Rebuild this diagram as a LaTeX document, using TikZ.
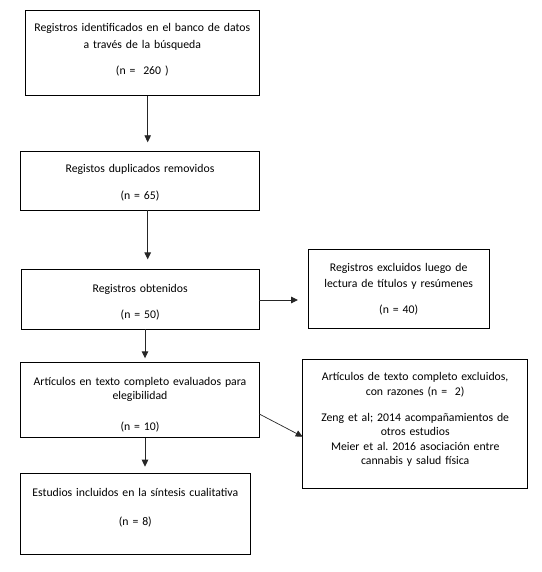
\documentclass[tikz,border=0pt]{standalone}
\usepackage{fontspec}
\setmainfont{Carlito}
\frenchspacing
\usetikzlibrary{arrows.meta}
\begin{document}
\begin{tikzpicture}[x=1pt,y=-1pt,
  box/.style={draw=black, line width=0.9pt, inner sep=0pt, outer sep=0pt, rectangle},
  txt/.style={font=\fontsize{11.75}{14.4}\selectfont\frenchspacing, align=center, text width=225pt, inner sep=0pt, anchor=base},
  arr/.style={draw=black!85, line width=0.9pt, -{Triangle[length=7pt,width=6.5pt]}}]
\useasboundingbox (0,0) rectangle (541,572);
% boxes
\node[box, minimum width=234pt, minimum height=85.7pt] (b1) at (142.3,52.85) {};
\node[box, minimum width=238.6pt, minimum height=58.3pt] (b2) at (140,180.85) {};
\node[box, minimum width=238.3pt, minimum height=60pt] (b3) at (140.15,299.3) {};
\node[box, minimum width=180.7pt, minimum height=79pt] (b4) at (398.65,288.8) {};
\node[box, minimum width=238.6pt, minimum height=75.4pt] (b5) at (140,400) {};
\node[box, minimum width=225pt, minimum height=129pt] (b6) at (415.2,423.5) {};
\node[box, minimum width=229.3pt, minimum height=81pt] (b7) at (135.35,513.8) {};
% texts
\node[txt] (t1) at ([yshift=-22pt]b1.north) {Registros identificados en el banco de datos\\[1.9pt] a través de la búsqueda\\[12.3pt] (n = \ 260 )};
\node[txt] (t2) at ([yshift=-20.6pt]b2.north) {Registos duplicados removidos\\[12.3pt] (n = 65)};
\node[txt] (t3) at ([yshift=-23pt]b3.north) {Registros obtenidos\\[11.6pt] (n = 50)};
\node[txt, text width=178pt] (t4) at ([yshift=-22.4pt]b4.north) {Registros excluidos luego de\\[1.2pt] lectura de títulos y resúmenes\\[11.6pt] (n = 40)};
\node[txt] (t5) at ([yshift=-22.7pt]b5.north) {Artículos en texto completo evaluados para\\ elegibilidad\\[16.6pt] (n = 10)};
\node[txt, text width=222pt] (t6) at ([yshift=-21.7pt]b6.north) {Artículos de texto completo excluidos,\\ con razones (n = \ 2)\\[11.9pt] Zeng et al; 2014 acompañamientos de\\ otros estudios\\ Meier et al. 2016 asociación entre\\ cannabis y salud física};
\node[txt] (t7) at ([yshift=-23.4pt]b7.north) {Estudios incluidos en la síntesis cualitativa\\[13.9pt] (n = 8)};
% connectors
\draw[arr, shorten >=9.4pt] (b1.south -| 147.7,0) -- (b2.north -| 147.7,0);
\draw[arr, shorten >=9.9pt] (b2.south -| 147.7,0) -- (b3.north -| 147.7,0);
\draw[arr, shorten >=4pt] (b3.south -| 145,0) -- (b5.north -| 145,0);
\draw[arr, shorten >=6.6pt] (b5.south -| 145,0) -- (b7.north -| 145,0);
\draw[arr, shorten >=10.3pt] (b3.east |- 0,300) -- (b4.west |- 0,300);
\coordinate (d6) at (b6.west |- 0,436.7);
\draw[arr, line width=0.7pt] (b5.east |- 0,414) -- (d6);
\end{tikzpicture}
\end{document}
